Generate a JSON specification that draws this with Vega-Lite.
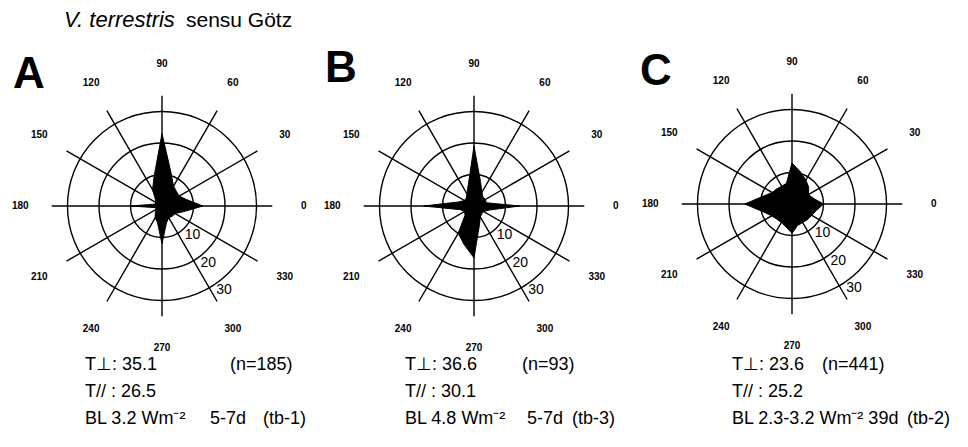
{
  "$schema": "https://vega.github.io/schema/vega-lite/v6.json",
  "padding": 0,
  "spacing": 0,
  "bounds": "flush",
  "background": "white",
  "config": {
    "view": {"stroke": null},
    "axis": {"disable": true},
    "legend": {"disable": true},
    "font": "Liberation Sans",
    "text": {"font": "Liberation Sans", "color": "black"}
  },
  "datasets": {
    "rings": [{"r": 10}, {"r": 20}, {"r": 30}],
    "spokes": [{"angle": 0}, {"angle": 30}, {"angle": 60}, {"angle": 90}, {"angle": 120}, {"angle": 150}],
    "alabels": [{"angle": 0, "label": "0"}, {"angle": 30, "label": "30"}, {"angle": 60, "label": "60"}, {"angle": 90, "label": "90"}, {"angle": 120, "label": "120"}, {"angle": 150, "label": "150"}, {"angle": 180, "label": "180"}, {"angle": 210, "label": "210"}, {"angle": 240, "label": "240"}, {"angle": 270, "label": "270"}, {"angle": 300, "label": "300"}, {"angle": 330, "label": "330"}],
    "rlabels": [{"r": 10, "label": "10"}, {"r": 20, "label": "20"}, {"r": 30, "label": "30"}],
    "starA": [{"angle": 0, "v": 13}, {"angle": 15, "v": 8}, {"angle": 30, "v": 6.3}, {"angle": 45, "v": 6.5}, {"angle": 60, "v": 7.3}, {"angle": 75, "v": 11}, {"angle": 90, "v": 23}, {"angle": 105, "v": 9.7}, {"angle": 120, "v": 6}, {"angle": 135, "v": 3}, {"angle": 150, "v": 2.3}, {"angle": 165, "v": 2.3}, {"angle": 180, "v": 10}, {"angle": 195, "v": 2}, {"angle": 210, "v": 2.3}, {"angle": 225, "v": 3}, {"angle": 240, "v": 4.3}, {"angle": 255, "v": 5.5}, {"angle": 270, "v": 12}, {"angle": 285, "v": 5.5}, {"angle": 300, "v": 4.3}, {"angle": 315, "v": 4.6}, {"angle": 330, "v": 4.8}, {"angle": 345, "v": 7}, {"angle": 360, "v": 13}],
    "starB": [{"angle": 0, "v": 14.5}, {"angle": 15, "v": 4}, {"angle": 30, "v": 4.2}, {"angle": 45, "v": 4}, {"angle": 60, "v": 5}, {"angle": 75, "v": 8}, {"angle": 90, "v": 19}, {"angle": 105, "v": 7}, {"angle": 120, "v": 4.5}, {"angle": 135, "v": 3.5}, {"angle": 150, "v": 3.5}, {"angle": 165, "v": 5}, {"angle": 180, "v": 16}, {"angle": 195, "v": 4.5}, {"angle": 210, "v": 3.5}, {"angle": 225, "v": 4}, {"angle": 240, "v": 10}, {"angle": 255, "v": 12.5}, {"angle": 270, "v": 16.5}, {"angle": 285, "v": 6.5}, {"angle": 300, "v": 4}, {"angle": 315, "v": 3.5}, {"angle": 330, "v": 3.5}, {"angle": 345, "v": 5}, {"angle": 360, "v": 14.5}],
    "starC": [{"angle": 0, "v": 10}, {"angle": 15, "v": 7}, {"angle": 30, "v": 6}, {"angle": 45, "v": 7.5}, {"angle": 60, "v": 8.8}, {"angle": 75, "v": 10.5}, {"angle": 90, "v": 13}, {"angle": 105, "v": 6.8}, {"angle": 120, "v": 6.5}, {"angle": 135, "v": 6.8}, {"angle": 150, "v": 7.3}, {"angle": 165, "v": 9.5}, {"angle": 180, "v": 15}, {"angle": 195, "v": 9.5}, {"angle": 210, "v": 7.5}, {"angle": 225, "v": 6.8}, {"angle": 240, "v": 6.8}, {"angle": 255, "v": 7.5}, {"angle": 270, "v": 9.3}, {"angle": 285, "v": 7}, {"angle": 300, "v": 6.8}, {"angle": 315, "v": 7}, {"angle": 330, "v": 7.2}, {"angle": 345, "v": 8}, {"angle": 360, "v": 10}]
  },
  "hconcat": [
    {
      "width": 318,
      "height": 447,
      "layer": [
        {"data": {"name": "rings"}, "transform": [{"calculate": "0", "as": "cx"}],
         "mark": {"type": "arc", "filled": false, "stroke": "black", "strokeWidth": 1.4, "theta": 0, "theta2": 6.2832},
         "encoding": {"x": {"field": "cx", "type": "quantitative"}, "y": {"field": "cx", "type": "quantitative"}, "radius": {"field": "r", "type": "quantitative", "stack": null, "scale": {"type": "linear", "domain": [0, 30], "range": [0, 94.5], "zero": true}}}},
        {"data": {"name": "spokes"}, "transform": [{"calculate": "-35*cos(datum.angle*PI/180)", "as": "sx"}, {"calculate": "-35*sin(datum.angle*PI/180)", "as": "sy"}, {"calculate": "35*cos(datum.angle*PI/180)", "as": "ex"}, {"calculate": "35*sin(datum.angle*PI/180)", "as": "ey"}],
         "mark": {"type": "rule", "stroke": "black", "strokeWidth": 1.4},
         "encoding": {"x": {"field": "sx", "type": "quantitative"}, "y": {"field": "sy", "type": "quantitative"}, "x2": {"field": "ex"}, "y2": {"field": "ey"}}},
        {"data": {"name": "starA"}, "transform": [{"calculate": "datum.v*cos(datum.angle*PI/180)", "as": "x"}, {"calculate": "datum.v*sin(datum.angle*PI/180)", "as": "y"}],
         "mark": {"type": "line", "fill": "black", "stroke": "black", "strokeWidth": 1},
         "encoding": {"x": {"field": "x", "type": "quantitative", "scale": {"domain": [-51.43, 49.52], "nice": false, "zero": false}},
                      "y": {"field": "y", "type": "quantitative", "scale": {"domain": [-76.51, 65.4], "nice": false, "zero": false}},
                      "order": {"field": "angle", "type": "quantitative"}}},
        {"data": {"name": "alabels"}, "transform": [{"calculate": "45*cos(datum.angle*PI/180)", "as": "lx"}, {"calculate": "45*sin(datum.angle*PI/180)", "as": "ly"}],
         "mark": {"type": "text", "fontSize": 10, "fontWeight": "bold", "align": "center", "baseline": "middle"},
         "encoding": {"x": {"field": "lx", "type": "quantitative"}, "y": {"field": "ly", "type": "quantitative"}, "text": {"field": "label"}}},
        {"data": {"name": "rlabels"}, "transform": [{"calculate": "datum.r*cos(300*PI/180)", "as": "lx"}, {"calculate": "datum.r*sin(300*PI/180)", "as": "ly"}],
         "mark": {"type": "text", "fontSize": 14, "align": "left", "baseline": "middle", "dx": 7, "dy": 2},
         "encoding": {"x": {"field": "lx", "type": "quantitative"}, "y": {"field": "ly", "type": "quantitative"}, "text": {"field": "label"}}},
        {"data": {"values": [{"t": "V. terrestris"}]}, "mark": {"type": "text", "fontSize": 22, "fontStyle": "italic", "align": "left", "baseline": "alphabetic"},
         "encoding": {"x": {"datum": -31.1, "type": "quantitative"}, "y": {"datum": 56.83, "type": "quantitative"}, "text": {"field": "t"}}},
        {"data": {"values": [{"t": "sensu Götz"}]}, "mark": {"type": "text", "fontSize": 21, "align": "left", "baseline": "alphabetic"},
         "encoding": {"x": {"datum": 7.6, "type": "quantitative"}, "y": {"datum": 56.83, "type": "quantitative"}, "text": {"field": "t"}}},
        {"data": {"values": [{"t": "A"}]}, "mark": {"type": "text", "fontSize": 44, "fontWeight": "bold", "align": "left", "baseline": "alphabetic"},
         "encoding": {"x": {"datum": -47.3, "type": "quantitative"}, "y": {"datum": 37.46, "type": "quantitative"}, "text": {"field": "t"}}},
        {"data": {"values": [{"t": "T⊥: 35.1"}]}, "mark": {"type": "text", "fontSize": 18, "align": "left", "baseline": "alphabetic"},
         "encoding": {"x": {"datum": -24.44, "type": "quantitative"}, "y": {"datum": -52.06, "type": "quantitative"}, "text": {"field": "t"}}},
        {"data": {"values": [{"t": "(n=185)"}]}, "mark": {"type": "text", "fontSize": 18, "align": "left", "baseline": "alphabetic"},
         "encoding": {"x": {"datum": 21.59, "type": "quantitative"}, "y": {"datum": -52.06, "type": "quantitative"}, "text": {"field": "t"}}},
        {"data": {"values": [{"t": "T// : 26.5"}]}, "mark": {"type": "text", "fontSize": 18, "align": "left", "baseline": "alphabetic"},
         "encoding": {"x": {"datum": -24.44, "type": "quantitative"}, "y": {"datum": -60.63, "type": "quantitative"}, "text": {"field": "t"}}},
        {"data": {"values": [{"t": "BL 3.2 Wm⁻²"}]}, "mark": {"type": "text", "fontSize": 18, "align": "left", "baseline": "alphabetic"},
         "encoding": {"x": {"datum": -24.44, "type": "quantitative"}, "y": {"datum": -69.21, "type": "quantitative"}, "text": {"field": "t"}}},
        {"data": {"values": [{"t": "5-7d"}]}, "mark": {"type": "text", "fontSize": 18, "align": "left", "baseline": "alphabetic"},
         "encoding": {"x": {"datum": 15.24, "type": "quantitative"}, "y": {"datum": -69.21, "type": "quantitative"}, "text": {"field": "t"}}},
        {"data": {"values": [{"t": "(tb-1)"}]}, "mark": {"type": "text", "fontSize": 18, "align": "left", "baseline": "alphabetic"},
         "encoding": {"x": {"datum": 32.06, "type": "quantitative"}, "y": {"datum": -69.21, "type": "quantitative"}, "text": {"field": "t"}}}
      ]
    },
    {
      "width": 316,
      "height": 447,
      "layer": [
        {"data": {"name": "rings"}, "transform": [{"calculate": "0", "as": "cx"}],
         "mark": {"type": "arc", "filled": false, "stroke": "black", "strokeWidth": 1.4, "theta": 0, "theta2": 6.2832},
         "encoding": {"x": {"field": "cx", "type": "quantitative"}, "y": {"field": "cx", "type": "quantitative"}, "radius": {"field": "r", "type": "quantitative", "stack": null, "scale": {"type": "linear", "domain": [0, 30], "range": [0, 94.5], "zero": true}}}},
        {"data": {"name": "spokes"}, "transform": [{"calculate": "-35*cos(datum.angle*PI/180)", "as": "sx"}, {"calculate": "-35*sin(datum.angle*PI/180)", "as": "sy"}, {"calculate": "35*cos(datum.angle*PI/180)", "as": "ex"}, {"calculate": "35*sin(datum.angle*PI/180)", "as": "ey"}],
         "mark": {"type": "rule", "stroke": "black", "strokeWidth": 1.4},
         "encoding": {"x": {"field": "sx", "type": "quantitative"}, "y": {"field": "sy", "type": "quantitative"}, "x2": {"field": "ex"}, "y2": {"field": "ey"}}},
        {"data": {"name": "starB"}, "transform": [{"calculate": "datum.v*cos(datum.angle*PI/180)", "as": "x"}, {"calculate": "datum.v*sin(datum.angle*PI/180)", "as": "y"}],
         "mark": {"type": "line", "fill": "black", "stroke": "black", "strokeWidth": 1},
         "encoding": {"x": {"field": "x", "type": "quantitative", "scale": {"domain": [-49.52, 50.79], "nice": false, "zero": false}},
                      "y": {"field": "y", "type": "quantitative", "scale": {"domain": [-76.51, 65.4], "nice": false, "zero": false}},
                      "order": {"field": "angle", "type": "quantitative"}}},
        {"data": {"name": "alabels"}, "transform": [{"calculate": "45*cos(datum.angle*PI/180)", "as": "lx"}, {"calculate": "45*sin(datum.angle*PI/180)", "as": "ly"}],
         "mark": {"type": "text", "fontSize": 10, "fontWeight": "bold", "align": "center", "baseline": "middle"},
         "encoding": {"x": {"field": "lx", "type": "quantitative"}, "y": {"field": "ly", "type": "quantitative"}, "text": {"field": "label"}}},
        {"data": {"name": "rlabels"}, "transform": [{"calculate": "datum.r*cos(300*PI/180)", "as": "lx"}, {"calculate": "datum.r*sin(300*PI/180)", "as": "ly"}],
         "mark": {"type": "text", "fontSize": 14, "align": "left", "baseline": "middle", "dx": 7, "dy": 2},
         "encoding": {"x": {"field": "lx", "type": "quantitative"}, "y": {"field": "ly", "type": "quantitative"}, "text": {"field": "label"}}},
        {"data": {"values": [{"t": "B"}]}, "mark": {"type": "text", "fontSize": 44, "fontWeight": "bold", "align": "left", "baseline": "alphabetic"},
         "encoding": {"x": {"datum": -47.3, "type": "quantitative"}, "y": {"datum": 39.37, "type": "quantitative"}, "text": {"field": "t"}}},
        {"data": {"values": [{"t": "T⊥: 36.6"}]}, "mark": {"type": "text", "fontSize": 18, "align": "left", "baseline": "alphabetic"},
         "encoding": {"x": {"datum": -21.9, "type": "quantitative"}, "y": {"datum": -52.06, "type": "quantitative"}, "text": {"field": "t"}}},
        {"data": {"values": [{"t": "(n=93)"}]}, "mark": {"type": "text", "fontSize": 18, "align": "left", "baseline": "alphabetic"},
         "encoding": {"x": {"datum": 15.24, "type": "quantitative"}, "y": {"datum": -52.06, "type": "quantitative"}, "text": {"field": "t"}}},
        {"data": {"values": [{"t": "T// : 30.1"}]}, "mark": {"type": "text", "fontSize": 18, "align": "left", "baseline": "alphabetic"},
         "encoding": {"x": {"datum": -21.9, "type": "quantitative"}, "y": {"datum": -60.63, "type": "quantitative"}, "text": {"field": "t"}}},
        {"data": {"values": [{"t": "BL 4.8 Wm⁻²"}]}, "mark": {"type": "text", "fontSize": 18, "align": "left", "baseline": "alphabetic"},
         "encoding": {"x": {"datum": -21.9, "type": "quantitative"}, "y": {"datum": -69.21, "type": "quantitative"}, "text": {"field": "t"}}},
        {"data": {"values": [{"t": "5-7d"}]}, "mark": {"type": "text", "fontSize": 18, "align": "left", "baseline": "alphabetic"},
         "encoding": {"x": {"datum": 16.83, "type": "quantitative"}, "y": {"datum": -69.21, "type": "quantitative"}, "text": {"field": "t"}}},
        {"data": {"values": [{"t": "(tb-3)"}]}, "mark": {"type": "text", "fontSize": 18, "align": "left", "baseline": "alphabetic"},
         "encoding": {"x": {"datum": 31.11, "type": "quantitative"}, "y": {"datum": -69.21, "type": "quantitative"}, "text": {"field": "t"}}}
      ]
    },
    {
      "width": 334,
      "height": 447,
      "layer": [
        {"data": {"name": "rings"}, "transform": [{"calculate": "0", "as": "cx"}],
         "mark": {"type": "arc", "filled": false, "stroke": "black", "strokeWidth": 1.4, "theta": 0, "theta2": 6.2832},
         "encoding": {"x": {"field": "cx", "type": "quantitative"}, "y": {"field": "cx", "type": "quantitative"}, "radius": {"field": "r", "type": "quantitative", "stack": null, "scale": {"type": "linear", "domain": [0, 30], "range": [0, 94.5], "zero": true}}}},
        {"data": {"name": "spokes"}, "transform": [{"calculate": "-35*cos(datum.angle*PI/180)", "as": "sx"}, {"calculate": "-35*sin(datum.angle*PI/180)", "as": "sy"}, {"calculate": "35*cos(datum.angle*PI/180)", "as": "ex"}, {"calculate": "35*sin(datum.angle*PI/180)", "as": "ey"}],
         "mark": {"type": "rule", "stroke": "black", "strokeWidth": 1.4},
         "encoding": {"x": {"field": "sx", "type": "quantitative"}, "y": {"field": "sy", "type": "quantitative"}, "x2": {"field": "ex"}, "y2": {"field": "ey"}}},
        {"data": {"name": "starC"}, "transform": [{"calculate": "datum.v*cos(datum.angle*PI/180)", "as": "x"}, {"calculate": "datum.v*sin(datum.angle*PI/180)", "as": "y"}],
         "mark": {"type": "line", "fill": "black", "stroke": "black", "strokeWidth": 1},
         "encoding": {"x": {"field": "x", "type": "quantitative", "scale": {"domain": [-50.16, 55.87], "nice": false, "zero": false}},
                      "y": {"field": "y", "type": "quantitative", "scale": {"domain": [-77.14, 64.76], "nice": false, "zero": false}},
                      "order": {"field": "angle", "type": "quantitative"}}},
        {"data": {"name": "alabels"}, "transform": [{"calculate": "45*cos(datum.angle*PI/180)", "as": "lx"}, {"calculate": "45*sin(datum.angle*PI/180)", "as": "ly"}],
         "mark": {"type": "text", "fontSize": 10, "fontWeight": "bold", "align": "center", "baseline": "middle"},
         "encoding": {"x": {"field": "lx", "type": "quantitative"}, "y": {"field": "ly", "type": "quantitative"}, "text": {"field": "label"}}},
        {"data": {"name": "rlabels"}, "transform": [{"calculate": "datum.r*cos(300*PI/180)", "as": "lx"}, {"calculate": "datum.r*sin(300*PI/180)", "as": "ly"}],
         "mark": {"type": "text", "fontSize": 14, "align": "left", "baseline": "middle", "dx": 7, "dy": 2},
         "encoding": {"x": {"field": "lx", "type": "quantitative"}, "y": {"field": "ly", "type": "quantitative"}, "text": {"field": "label"}}},
        {"data": {"values": [{"t": "C"}]}, "mark": {"type": "text", "fontSize": 44, "fontWeight": "bold", "align": "left", "baseline": "alphabetic"},
         "encoding": {"x": {"datum": -48.25, "type": "quantitative"}, "y": {"datum": 37.78, "type": "quantitative"}, "text": {"field": "t"}}},
        {"data": {"values": [{"t": "T⊥: 23.6"}]}, "mark": {"type": "text", "fontSize": 18, "align": "left", "baseline": "alphabetic"},
         "encoding": {"x": {"datum": -19.05, "type": "quantitative"}, "y": {"datum": -52.7, "type": "quantitative"}, "text": {"field": "t"}}},
        {"data": {"values": [{"t": "(n=441)"}]}, "mark": {"type": "text", "fontSize": 18, "align": "left", "baseline": "alphabetic"},
         "encoding": {"x": {"datum": 9.52, "type": "quantitative"}, "y": {"datum": -52.7, "type": "quantitative"}, "text": {"field": "t"}}},
        {"data": {"values": [{"t": "T// : 25.2"}]}, "mark": {"type": "text", "fontSize": 18, "align": "left", "baseline": "alphabetic"},
         "encoding": {"x": {"datum": -19.05, "type": "quantitative"}, "y": {"datum": -61.27, "type": "quantitative"}, "text": {"field": "t"}}},
        {"data": {"values": [{"t": "BL 2.3-3.2 Wm⁻² 39d"}]}, "mark": {"type": "text", "fontSize": 18, "align": "left", "baseline": "alphabetic"},
         "encoding": {"x": {"datum": -19.05, "type": "quantitative"}, "y": {"datum": -69.84, "type": "quantitative"}, "text": {"field": "t"}}},
        {"data": {"values": [{"t": "(tb-2)"}]}, "mark": {"type": "text", "fontSize": 18, "align": "left", "baseline": "alphabetic"},
         "encoding": {"x": {"datum": 36.5, "type": "quantitative"}, "y": {"datum": -69.84, "type": "quantitative"}, "text": {"field": "t"}}}
      ]
    }
  ]
}
